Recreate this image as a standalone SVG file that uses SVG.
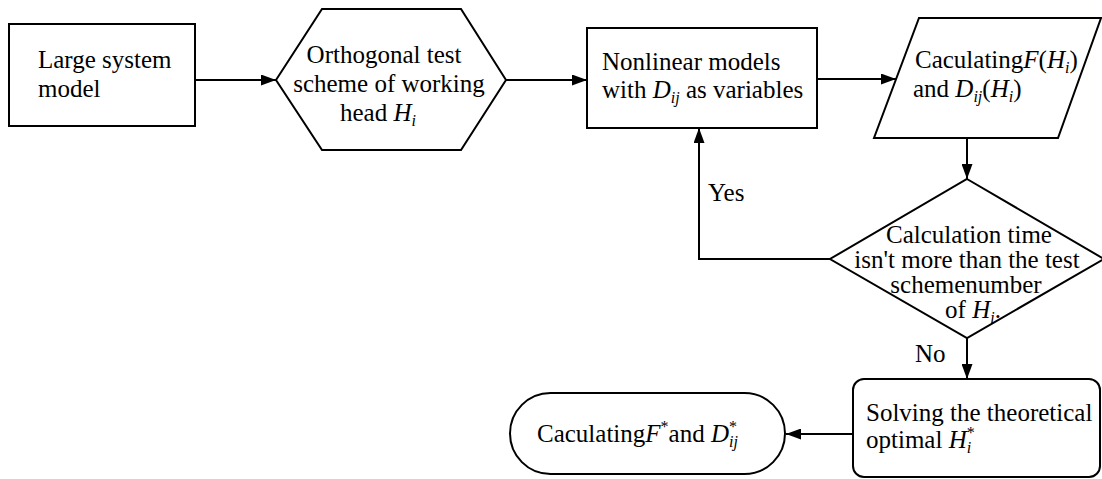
<svg xmlns="http://www.w3.org/2000/svg" width="1102" height="479" viewBox="0 0 1102 479">
<style>
.box{fill:#fff;stroke:#000;stroke-width:2;stroke-linejoin:miter}
text{font-family:'Liberation Serif','Times New Roman',Tinos,'DejaVu Serif',serif;font-size:25px;fill:#000}
.i{font-style:italic}
.s{font-size:16px}
.conn{stroke:#000;stroke-width:2;fill:none}
</style>
<defs>
<marker id="arr" markerUnits="userSpaceOnUse" markerWidth="15" markerHeight="11" refX="15" refY="5.5" orient="auto">
<path d="M0,0 L15,5.5 L0,11 z" fill="#000"/>
</marker>
</defs>
<rect width="1102" height="479" fill="#fff"/>
<g id="connectors">
<path class="conn" d="M195,80 H276" marker-end="url(#arr)"/>
<path class="conn" d="M506,80 H587" marker-end="url(#arr)"/>
<path class="conn" d="M817,79 H896" marker-end="url(#arr)"/>
<path class="conn" d="M967,138 V179" marker-end="url(#arr)"/>
<path class="conn" d="M830,259 H699 V128" marker-end="url(#arr)"/>
<path class="conn" d="M967,338 V379" marker-end="url(#arr)"/>
<path class="conn" d="M853,434 H786" marker-end="url(#arr)"/>
<text x="708" y="201">Yes</text>
<text x="915" y="362">No</text>
</g>
<g id="n1">
<rect class="box" x="9" y="24" width="186" height="102"/>
<text x="38" y="68">Large system</text>
<text x="38" y="97">model</text>
</g>
<g id="n2">
<polygon class="box" points="276,80 322,9 461,9 506,80 461,150 322,150"/>
<text x="384" y="63" text-anchor="middle">Orthogonal test</text>
<text x="389" y="92" text-anchor="middle">scheme of working</text>
<text x="340" y="121">head <tspan class="i">H</tspan><tspan class="i s" dy="5">i</tspan></text>
</g>
<g id="n3">
<rect class="box" x="587" y="28" width="230" height="100"/>
<text x="602" y="70">Nonlinear models</text>
<text x="602" y="98">with <tspan class="i">D</tspan><tspan class="i s" dy="5">ij</tspan><tspan dy="-5">  as variables</tspan></text>
</g>
<g id="n4">
<polygon class="box" points="919,18 1101,18 1058,138 874,138"/>
<text x="915" y="68">Caculating<tspan class="i">F</tspan>(<tspan class="i">H</tspan><tspan class="i s" dy="5">i</tspan><tspan dy="-5">)</tspan></text>
<text x="913" y="97">and <tspan class="i">D</tspan><tspan class="i s" dy="5">ij</tspan><tspan dy="-5">(</tspan><tspan class="i">H</tspan><tspan class="i s" dy="5">i</tspan><tspan dy="-5">)</tspan></text>
</g>
<g id="n5">
<polygon class="box" points="967,179 1104,259 967,338 830,259"/>
<text x="969" y="243" text-anchor="middle">Calculation time</text>
<text x="967" y="268" text-anchor="middle">isn't more than the test</text>
<text x="966" y="293" text-anchor="middle">schemenumber</text>
<text x="973" y="318" text-anchor="middle">of <tspan class="i">H</tspan><tspan class="i s" dy="5">i</tspan><tspan dy="-5">.</tspan></text>
</g>
<g id="n6">
<rect class="box" x="853" y="379" width="247" height="98" rx="11"/>
<text x="866" y="421">Solving the theoretical</text>
<text x="866" y="448">optimal <tspan class="i">H</tspan><tspan class="s" dy="-10">*</tspan><tspan class="i s" dx="-8" dy="15">i</tspan></text>
</g>
<g id="n7">
<rect class="box" x="510" y="393" width="275" height="81" rx="40.5"/>
<text x="537" y="442">Caculating<tspan class="i">F</tspan><tspan class="s" dy="-10">*</tspan><tspan dy="10">and </tspan><tspan class="i">D</tspan><tspan class="s" dy="-10">*</tspan><tspan class="i s" dx="-8" dy="15">ij</tspan></text>
</g>
</svg>
